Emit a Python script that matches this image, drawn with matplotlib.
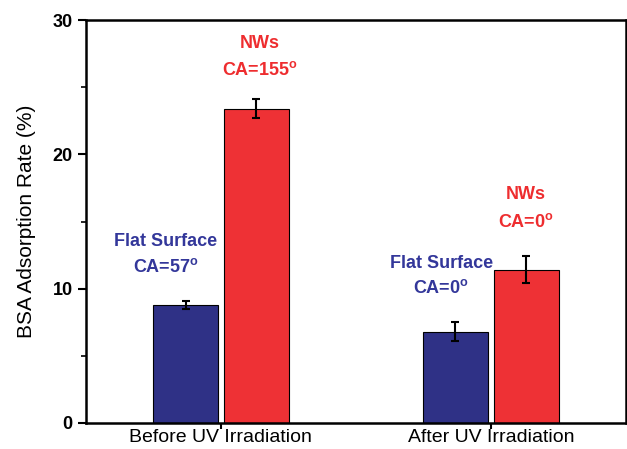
import matplotlib.pyplot as plt
import numpy as np

plt.rcParams['font.family'] = ['Liberation Sans', 'DejaVu Sans']
plt.rcParams['mathtext.fontset'] = 'custom'
plt.rcParams['mathtext.rm'] = 'Liberation Sans'
plt.rcParams['mathtext.bf'] = 'Liberation Sans:bold'

categories = ['Before UV Irradiation', 'After UV Irradiation']
flat_vals = [8.8, 6.8]
flat_err = [0.3, 0.7]
nws_vals = [23.4, 11.4]
nws_err = [0.7, 1.0]
flat_ca = ['57', '0']
nws_ca = ['155', '0']

blue = '#2f3186'
red = '#ee3135'
txt_blue = '#33379a'
txt_red = '#ee2d2f'

fig = plt.figure(figsize=(6.27, 4.49), dpi=100)
ax = fig.add_axes([0.137, 0.058, 0.861, 0.897])

x = np.arange(1, len(categories) + 1)
w = 0.24
off = 0.131
ax.bar(x - off, flat_vals, w, color=blue, edgecolor='black', linewidth=0.8, zorder=2)
ax.bar(x + off, nws_vals, w, color=red, edgecolor='black', linewidth=0.8, zorder=2)
ax.errorbar(x - off, flat_vals, yerr=flat_err, fmt='none', ecolor='black',
            elinewidth=1.5, capsize=3, capthick=1.5, zorder=3)
ax.errorbar(x + off, nws_vals, yerr=nws_err, fmt='none', ecolor='black',
            elinewidth=1.5, capsize=3, capthick=1.5, zorder=3)

# annotation placement (data coords)
flat_lab = [(0.795, 13.55, 11.6), (1.817, 11.9, 10.05)]
nws_lab = [(1.145, 28.3, 26.3), (2.13, 16.98, 14.97)]
for (lx, y1, y2), ca in zip(flat_lab, flat_ca):
    ax.text(lx, y1, 'Flat Surface', color=txt_blue, fontsize=13, fontweight='bold',
            ha='center', va='center')
    ax.text(lx, y2, 'CA=' + ca + r'$^{\mathbf{o}}$', color=txt_blue, fontsize=13,
            fontweight='bold', ha='center', va='center')
for (lx, y1, y2), ca in zip(nws_lab, nws_ca):
    ax.text(lx, y1, 'NWs', color=txt_red, fontsize=13, fontweight='bold',
            ha='center', va='center')
    ax.text(lx, y2, 'CA=' + ca + r'$^{\mathbf{o}}$', color=txt_red, fontsize=13,
            fontweight='bold', ha='center', va='center')

ax.set_xlim(0.5, 2.5)
ax.set_ylim(0, 30)
ax.set_xticks(x)
ax.set_xticklabels(categories, fontsize=14)
ax.set_yticks([0, 10, 20, 30])
ax.set_yticks([5, 15, 25], minor=True)
for lab in ax.get_yticklabels():
    lab.set_fontweight('bold')
    lab.set_fontsize(13)
ax.set_ylabel('BSA Adsorption Rate (%)', fontsize=15, labelpad=12)
ax.tick_params(axis='y', which='major', direction='out', length=6, width=1.5)
ax.tick_params(axis='y', which='minor', direction='out', length=3.5, width=1.2)
ax.tick_params(axis='x', direction='out', length=4, width=1.5, pad=0.5)
for s in ax.spines.values():
    s.set_linewidth(1.8)

fig.savefig('out.png', dpi=100)
